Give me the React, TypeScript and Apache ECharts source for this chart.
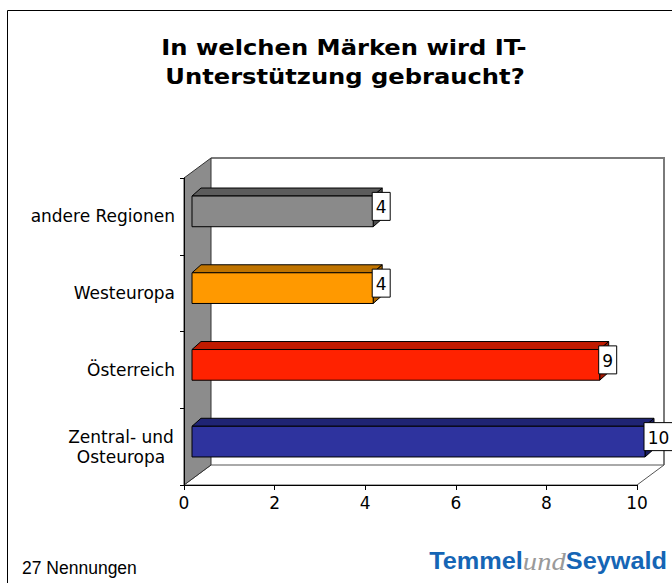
import React, { useEffect, useRef } from "react";
import * as echarts from "echarts";

const categories = ["andere Regionen", "Westeuropa", "Österreich", "Zentral- und\nOsteuropa"];
const values = [4, 4, 9, 10];
const frontColors = ["#8A8A8A", "#FF9900", "#FF2200", "#2E339E"];
const topColors = ["#5C5C5C", "#C07400", "#C01A00", "#1F2474"];
const sideColors = ["#4C4C4C", "#A66300", "#A31600", "#1A1E60"];
const titleLines = ["In welchen Märken wird IT-", "Unterstützung gebraucht?"];
const footerText = "27 Nennungen";

const DEPTH_X = 27;
const DEPTH_Y = -20;

export default function App() {
  const ref = useRef<HTMLDivElement>(null);
  useEffect(() => {
    if (!ref.current) return;
    const chart = echarts.init(ref.current, null, { renderer: "svg" });
    const font = "DejaVu Sans, Verdana, sans-serif";
    const option: any = {
      animation: false,
      backgroundColor: "#ffffff",
      grid: { left: 184, top: 178, width: 453, height: 307, containLabel: false },
      xAxis: {
        type: "value",
        min: 0,
        max: 10,
        interval: 2,
        z: 5,
        axisLine: { show: true, lineStyle: { color: "#000", width: 1 } },
        axisTick: { show: true, length: 5, lineStyle: { color: "#000" } },
        axisLabel: { fontSize: 17, color: "#000", fontFamily: font, margin: 9 },
        splitLine: { show: false },
      },
      yAxis: {
        type: "category",
        data: categories,
        inverse: true,
        z: 5,
        axisLine: { show: true, lineStyle: { color: "#000", width: 1 } },
        axisTick: { show: true, length: 4, lineStyle: { color: "#000" } },
        axisLabel: {
          fontSize: 17,
          color: "#000",
          fontFamily: font,
          margin: 9,
          lineHeight: 20,
          formatter: (v: string) =>
            v.includes("\n") ? v.split("\n").map((l) => `{c|${l}}`).join("\n") : v,
          rich: {
            c: { width: 108, align: "center", fontSize: 17, fontFamily: font, color: "#000", lineHeight: 20 },
          },
        },
        splitLine: { show: false },
      },
      series: [
        {
          type: "custom",
          z: 1,
          clip: false,
          silent: true,
          data: [[0, 0]],
          encode: { x: 0, y: 1 },
          renderItem: (params: any) => {
            const cs = params.coordSys;
            const x = cs.x, y = cs.y, w = cs.width, h = cs.height;
            return {
              type: "group",
              children: [
                {
                  type: "rect",
                  shape: { x: x + DEPTH_X, y: y + DEPTH_Y, width: w, height: h },
                  style: { fill: "#ffffff", stroke: "none" },
                },
                {
                  type: "polyline",
                  shape: {
                    points: [
                      [x + DEPTH_X, y + DEPTH_Y],
                      [x + w + DEPTH_X, y + DEPTH_Y],
                      [x + w + DEPTH_X, y + h + DEPTH_Y],
                    ],
                  },
                  style: { fill: "none", stroke: "#7a7a7a", lineWidth: 2 },
                },
                {
                  type: "polygon",
                  shape: {
                    points: [
                      [x, y + h],
                      [x + DEPTH_X, y + h + DEPTH_Y],
                      [x + w + DEPTH_X, y + h + DEPTH_Y],
                      [x + w, y + h],
                    ],
                  },
                  style: { fill: "#ffffff", stroke: "#555", lineWidth: 1 },
                },
                {
                  type: "polygon",
                  shape: {
                    points: [
                      [x, y],
                      [x + DEPTH_X, y + DEPTH_Y],
                      [x + DEPTH_X, y + h + DEPTH_Y],
                      [x, y + h],
                    ],
                  },
                  style: { fill: "#8C8C8C", stroke: "#333", lineWidth: 1 },
                },
              ],
            };
          },
        },
        {
          type: "custom",
          z: 3,
          clip: false,
          data: values.map((v, i) => [v, i]),
          encode: { x: 0, y: 1 },
          renderItem: (params: any, api: any) => {
            const v = api.value(0);
            const idx = api.value(1);
            const [xe, yc] = api.coord([v, idx]);
            const [x0] = api.coord([0, idx]);
            const bandH = api.size([0, 1])[1];
            const bh = bandH * 0.4;
            const fx = x0 + 8;
            const fy = yc - 5 - bh / 2;
            const bw = xe - x0;
            const dx = 9, dy = -8;
            const label = String(values[idx]);
            const boxW = label.length * 11 + 7;
            const boxH = 28;
            const boxX = fx + bw - 1;
            const boxCy = fy + bh / 2 - 5;
            return {
              type: "group",
              children: [
                {
                  type: "polygon",
                  shape: { points: [[fx, fy], [fx + dx, fy + dy], [fx + bw + dx, fy + dy], [fx + bw, fy]] },
                  style: { fill: topColors[idx], stroke: "#000", lineWidth: 1 },
                },
                {
                  type: "polygon",
                  shape: { points: [[fx + bw, fy], [fx + bw + dx, fy + dy], [fx + bw + dx, fy + bh + dy], [fx + bw, fy + bh]] },
                  style: { fill: sideColors[idx], stroke: "#000", lineWidth: 1 },
                },
                {
                  type: "rect",
                  shape: { x: fx, y: fy, width: bw, height: bh },
                  style: { fill: frontColors[idx], stroke: "#000", lineWidth: 1 },
                },
                {
                  type: "rect",
                  shape: { x: boxX, y: boxCy - boxH / 2, width: boxW, height: boxH },
                  style: { fill: "#ffffff", stroke: "#000", lineWidth: 1 },
                },
                {
                  type: "text",
                  style: {
                    text: label,
                    x: boxX + boxW / 2,
                    y: boxCy + 1,
                    align: "center",
                    verticalAlign: "middle",
                    fill: "#000",
                    fontSize: 17,
                    fontFamily: font,
                  },
                },
              ],
            };
          },
        },
      ],
      graphic: [
        {
          type: "rect",
          z: 10,
          silent: true,
          shape: { x: 7.5, y: 10.5, width: 720, height: 620 },
          style: { fill: "none", stroke: "#000", lineWidth: 1 },
        },
        {
          type: "text",
          x: 344,
          y: 47,
          scaleX: 1.1,
          style: {
            text: titleLines[0],
            align: "center",
            verticalAlign: "middle",
            fill: "#000",
            fontSize: 22,
            fontWeight: "bold",
            fontFamily: font,
          },
        },
        {
          type: "text",
          x: 345,
          y: 76,
          scaleX: 1.1,
          style: {
            text: titleLines[1],
            align: "center",
            verticalAlign: "middle",
            fill: "#000",
            fontSize: 22,
            fontWeight: "bold",
            fontFamily: font,
          },
        },
        {
          type: "text",
          x: 22,
          y: 568,
          style: {
            text: footerText,
            align: "left",
            verticalAlign: "middle",
            fill: "#000",
            fontSize: 17.5,
            fontFamily: "Liberation Sans, Arial, sans-serif",
          },
        },
        {
          type: "text",
          x: 667,
          y: 561,
          scaleX: 1.1,
          style: {
            text: "{a|Temmel}{b|und}{a|Seywald}",
            align: "right",
            verticalAlign: "middle",
            rich: {
              a: {
                fontSize: 23,
                fontWeight: "bold",
                fontFamily: "Liberation Sans, Arial, sans-serif",
                fill: "#1565B5",
                color: "#1565B5",
              },
              b: {
                fontSize: 26,
                fontStyle: "italic",
                fontFamily: "Liberation Serif, Times New Roman, serif",
                fill: "#9A9A9A",
                color: "#9A9A9A",
              },
            },
          },
        },
      ],
    };
    chart.setOption(option);
    return () => chart.dispose();
  }, []);
  return (
    <div
      ref={ref}
      style={{ position: "absolute", left: 0, top: 0, width: 672, height: 583, background: "#fff" }}
    />
  );
}
